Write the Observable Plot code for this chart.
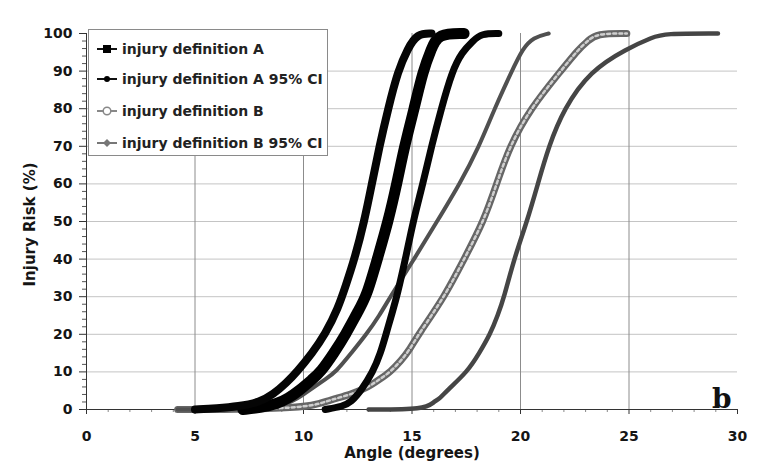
<!DOCTYPE html>
<html>
<head>
<meta charset="utf-8">
<script src="https://cdn.jsdelivr.net/npm/d3@7"></script>
<script src="https://cdn.jsdelivr.net/npm/@observablehq/plot@0.6"></script>
<style>
  body { margin: 0; background: #fff; }
  #wrap { position: relative; width: 760px; height: 467px; overflow: hidden; }
  #legend { position: absolute; left: 88px; top: 29px; width: 240px; height: 127px; border: 1px solid #8a8a8a; background: #fff; box-sizing: border-box; }
  .item { position: absolute; left: 0; height: 20px; display: flex; align-items: center; font-family: "DejaVu Sans", sans-serif; font-weight: bold; font-size: 14px; color: #222; white-space: nowrap; }
  .item svg { margin-left: 8px; margin-right: 5px; }
</style>
</head>
<body>
<div id="wrap"><div id="legend"></div></div>
<script>
// ---- data ----
const seriesNames = ["injury definition A", "injury definition A 95% CI", "injury definition B", "injury definition B 95% CI"];

const xTicks = [0, 5, 10, 15, 20, 25, 30];
const xGrid = [5, 10, 15, 20, 25];
const xMinor = [1,2,3,4,6,7,8,9,11,12,13,14,16,17,18,19,21,22,23,24,26,27,28,29];
const yTicks = [0, 10, 20, 30, 40, 50, 60, 70, 80, 90, 100];
const yGrid = [10, 20, 30, 40, 50, 60, 70, 80, 90];
const yMinor = [2,4,6,8,12,14,16,18,22,24,26,28,32,34,36,38,42,44,46,48,52,54,56,58,62,64,66,68,72,74,76,78,82,84,86,88,92,94,96,98];

// Injury definition A, lower 95% CI
const aLowerAngle = [5.0, 6.0, 7.0, 8.0, 8.6, 9.2, 9.7, 10.4, 11.0, 11.6, 11.95, 12.35, 12.8, 13.15, 13.5, 13.9, 14.35, 14.8, 15.25, 15.9];
const aLowerRisk  = [0, 0.3, 0.8, 2, 4, 7, 10, 15, 20, 27, 33, 40, 50, 60, 70, 80, 90, 96, 100, 100];
// Injury definition A
const aAngle = [7.2, 8.0, 8.8, 9.3, 9.8, 10.4, 10.8, 11.4, 11.95, 12.5, 12.9, 13.4, 13.9, 14.3, 14.65, 15.1, 15.5, 15.9, 16.2, 17.4];
const aRisk  = [0, 0.5, 1.5, 3, 5, 8, 10, 15, 20, 26, 30, 40, 50, 60, 70, 80, 90, 96, 100, 100];
// Injury definition A, upper 95% CI
const aUpperAngle = [11.0, 11.8, 12.2, 12.65, 13.2, 13.55, 13.8, 14.1, 14.3, 14.7, 15.05, 15.5, 15.9, 16.35, 16.85, 17.3, 17.8, 18.2, 19.0];
const aUpperRisk  = [0, 0.8, 2, 5, 10, 15, 20, 26, 30, 40, 50, 60, 70, 80, 90, 95, 98, 100, 100];
// Injury definition B, lower 95% CI
const bLowerAngle = [4.2, 6.0, 8.5, 9.5, 10.0, 10.5, 11.0, 11.5, 12.2, 12.9, 13.5, 14.0, 15.1, 16.15, 17.2, 18.1, 18.8, 19.6, 20.1, 20.6, 21.3];
const bLowerRisk  = [0, 0, 0.5, 2, 4, 6, 8, 10, 15, 20, 25, 30, 40, 50, 60, 70, 80, 90, 96, 99, 100];
// Injury definition B
const bAngle = [4.2, 7.0, 9.0, 10.5, 11.2, 12.2, 13.0, 13.5, 14.0, 14.5, 14.9, 15.3, 16.5, 17.4, 18.3, 18.9, 19.5, 20.45, 21.85, 22.7, 23.1, 23.5, 24.9];
const bRisk  = [0, 0, 0.3, 1, 2.5, 4, 6, 8, 10, 13, 16, 20, 30, 40, 50, 60, 70, 80, 90, 96, 98, 100, 100];
// Injury definition B, upper 95% CI
const bUpperAngle = [13.0, 15.6, 16.0, 16.3, 16.6, 17.55, 18.1, 18.6, 18.95, 19.25, 19.7, 20.3, 20.8, 21.3, 22.0, 23.2, 24.9, 26.1, 26.6, 29.1];
const bUpperRisk  = [0, 0, 2, 3, 5, 10, 15, 20, 25, 30, 40, 50, 60, 70, 80, 90, 96, 99, 100, 100];

const rows = (angles, risks) => angles.map((a, i) => ({angle: a, risk: risks[i]}));
const lineOpts = (o) => Object.assign({x: "angle", y: "risk", curve: "basis", strokeLinecap: "round", strokeLinejoin: "round"}, o);

const chart = Plot.plot({
  width: 760,
  height: 467,
  marginLeft: 86,
  marginRight: 23,
  marginTop: 33,
  marginBottom: 58,
  style: {fontFamily: "DejaVu Sans, sans-serif", fontWeight: "bold", fontSize: "14px", color: "#151515", background: "transparent", overflow: "visible"},
  x: {domain: [0, 30]},
  y: {domain: [0, 100]},
  marks: [
    Plot.gridY(yGrid, {stroke: "#c4c4c4", strokeOpacity: 1}),
    Plot.gridX(xGrid, {stroke: "#8c8c8c", strokeOpacity: 1}),
    Plot.axisY(yMinor, {tickSize: 4, text: null, label: null, stroke: "#555"}),
    Plot.axisY(yTicks, {tickSize: 7, tickPadding: 7, label: null, stroke: "#333"}),
    Plot.axisX(xMinor, {tickSize: 3, text: null, label: null, stroke: "#888"}),
    Plot.axisX(xTicks, {tickSize: 5, tickPadding: 17, label: null, stroke: "#333"}),
    Plot.ruleX([0], {stroke: "#333"}),
    Plot.ruleY([0], {stroke: "#333"}),
    Plot.line(rows(bUpperAngle, bUpperRisk), lineOpts({stroke: "#454545", strokeWidth: 4.5})),
    Plot.line(rows(bAngle, bRisk), lineOpts({stroke: "#666", strokeWidth: 7})),
    Plot.line(rows(bAngle, bRisk), lineOpts({stroke: "#cfcfcf", strokeWidth: 2.5, strokeDasharray: "3,3"})),
    Plot.line(rows(bLowerAngle, bLowerRisk), lineOpts({stroke: "#505050", strokeWidth: 4})),
    Plot.line(rows(aUpperAngle, aUpperRisk), lineOpts({stroke: "#050505", strokeWidth: 7})),
    Plot.line(rows(aAngle, aRisk), lineOpts({stroke: "#000", strokeWidth: 11})),
    Plot.line(rows(aLowerAngle, aLowerRisk), lineOpts({stroke: "#050505", strokeWidth: 8})),
    Plot.text(["Angle (degrees)"], {frameAnchor: "bottom", dy: 48, fontSize: 15, fill: "#151515"}),
    Plot.text(["Injury Risk (%)"], {frameAnchor: "left", dx: -56, dy: 3, rotate: -90, textAnchor: "middle", fontSize: 15, fill: "#151515"}),
    Plot.text(["b"], {frameAnchor: "bottom-right", dx: -6, dy: -2, fontFamily: "DejaVu Serif, serif", fontSize: 28, fontWeight: "bold", fill: "#111"})
  ]
});
document.getElementById("wrap").prepend(chart);

// legend
const swatches = [
  '<line x1="0" y1="7" x2="20" y2="7" stroke="#111" stroke-width="2"/><rect x="6" y="3" width="8" height="8" fill="#000"/>',
  '<line x1="0" y1="7" x2="20" y2="7" stroke="#111" stroke-width="2"/><circle cx="10" cy="7" r="3" fill="#000"/>',
  '<line x1="0" y1="7" x2="20" y2="7" stroke="#888" stroke-width="2"/><circle cx="10" cy="7" r="3.8" fill="#fff" stroke="#888" stroke-width="1.5"/>',
  '<line x1="0" y1="7" x2="20" y2="7" stroke="#777" stroke-width="2"/><path d="M10 3 L14 7 L10 11 L6 7 Z" fill="#777"/>'
];
const itemTops = [9, 39, 71, 103];
const legend = document.getElementById("legend");
seriesNames.forEach((name, i) => {
  const d = document.createElement("div");
  d.className = "item";
  d.style.top = itemTops[i] + "px";
  d.innerHTML = '<svg width="20" height="14" viewBox="0 0 20 14">' + swatches[i] + '</svg><span>' + name + '</span>';
  legend.appendChild(d);
});
</script>
</body>
</html>
